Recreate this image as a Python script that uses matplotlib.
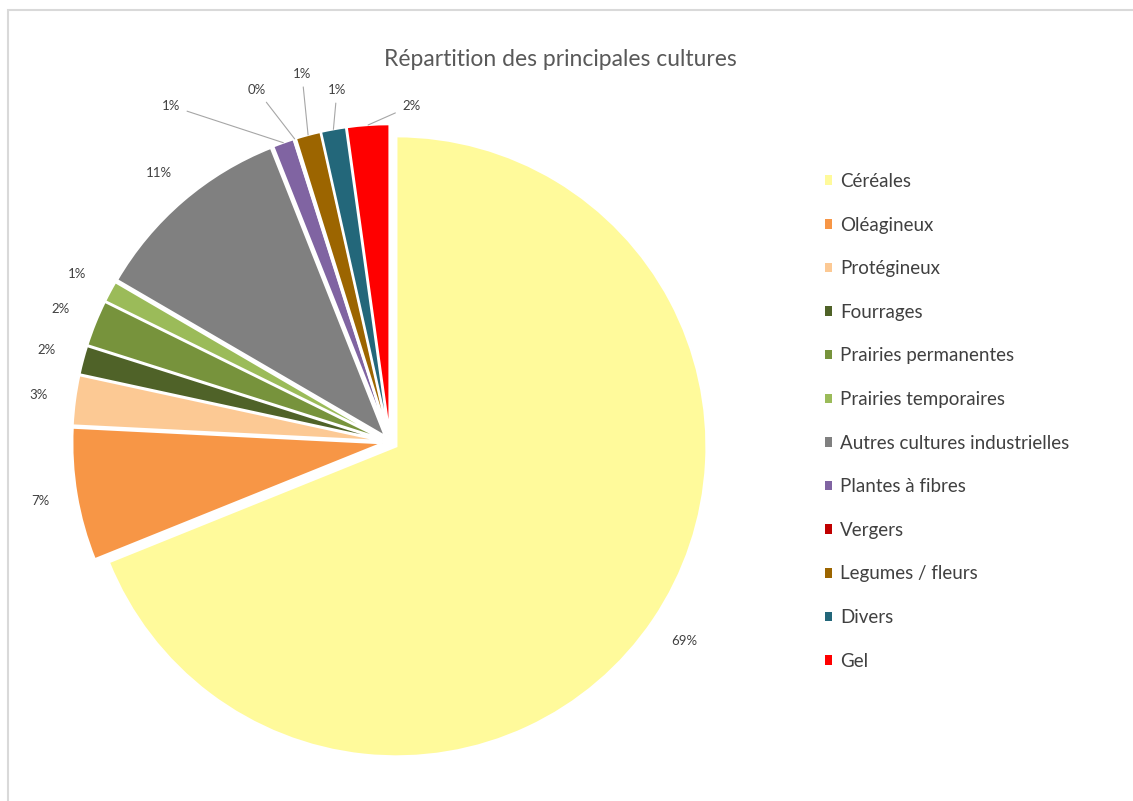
import matplotlib.pyplot as plt
from matplotlib.patches import Patch, Rectangle
import numpy as np

# data (shares in %)
cultures = ["Céréales", "Oléagineux", "Protégineux", "Fourrages",
            "Prairies permanentes", "Prairies temporaires",
            "Autres cultures industrielles", "Plantes à fibres", "Vergers",
            "Legumes / fleurs", "Divers", "Gel"]
parts = [68.9, 6.9, 2.6, 1.5, 2.4, 1.1, 10.6, 1.1, 0.1, 1.3, 1.3, 2.2]
couleurs = ["#FFFA9B", "#F79646", "#FCC994", "#4F6228", "#77933C", "#9BBB59",
            "#808080", "#8064A2", "#C00000", "#9C6500", "#23677A", "#FF0000"]

# label positions (data units) for the small slices at the top, with leader lines
leader_pos = {7: (-0.706, 1.084), 8: (-0.429, 1.135), 9: (-0.284, 1.187),
              10: (-0.171, 1.135), 11: (0.068, 1.084)}

plt.rcParams['font.family'] = ['Lato', 'DejaVu Sans']

W, H = 1133, 801
fig = plt.figure(figsize=(W / 100, H / 100), dpi=100)

# thin grey frame of the chart area
fig.patches.append(Rectangle((8 / W, -0.1), 1.2, 1 - 10 / H + 0.1,
                             transform=fig.transFigure, fill=False,
                             edgecolor="#D9D9D9", lw=1.5))

r_px = 310
cx, cy = 390, 442
lim = 1.05
side = 2 * lim * r_px
ax = fig.add_axes([(cx - side / 2) / W, (H - cy - side / 2) / H, side / W, side / H])

wedges, _ = ax.pie(parts, colors=couleurs, startangle=90, counterclock=False,
                   explode=[0.025] * len(parts),
                   wedgeprops=dict(edgecolor="white", linewidth=1.5))
ax.set_xlim(-lim, lim)
ax.set_ylim(-lim, lim)
ax.set_aspect("equal")
ax.axis("off")

total = sum(parts)
for i, w in enumerate(wedges):
    txt = f"{parts[i] / total * 100:.0f}%"
    ang = np.deg2rad((w.theta1 + w.theta2) / 2)
    x0, y0 = w.center
    if i in leader_pos:
        tip = (x0 + w.r * np.cos(ang), y0 + w.r * np.sin(ang))
        ax.annotate(txt, xy=tip, xytext=leader_pos[i], ha="center", va="center",
                    fontsize=9.5, color="#404040",
                    arrowprops=dict(arrowstyle="-", color="#A6A6A6", lw=0.8,
                                    shrinkA=3, shrinkB=0))
    else:
        d = 1.12
        ax.text(x0 + d * np.cos(ang), y0 + d * np.sin(ang), txt,
                ha="center", va="center", fontsize=9.5, color="#404040")

fig.text(560 / W, 1 - 60 / H, "Répartition des principales cultures",
         ha="center", va="center", fontsize=16.5, color="#595959")

handles = [Patch(facecolor=c, edgecolor="none") for c in couleurs]
fig.legend(handles, cultures, loc="upper left", bbox_to_anchor=(808 / W, 1 - 156 / H),
           frameon=False, fontsize=13.5, labelcolor="#404040",
           handlelength=0.4, handleheight=0.4, handletextpad=0.4,
           labelspacing=1.42)

fig.savefig("out.png", dpi=100)
